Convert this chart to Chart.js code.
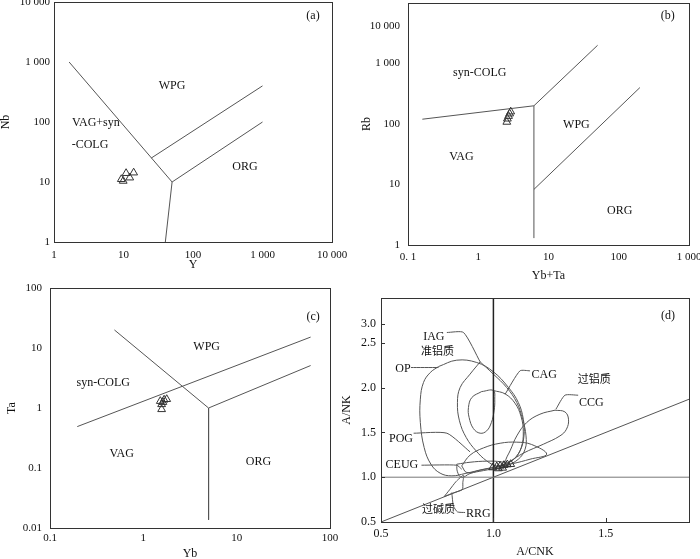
<!DOCTYPE html>
<html>
<head>
<meta charset="utf-8">
<script src="https://cdn.jsdelivr.net/npm/chart.js@4.4.1/dist/chart.umd.min.js"></script>
<style>
  html, body { margin: 0; padding: 0; background: #fff; }
  body { width: 700px; height: 559px; position: relative; overflow: hidden; }
  canvas { position: absolute; }
</style>
</head>
<body>
<canvas id="pa"></canvas>
<canvas id="pb"></canvas>
<canvas id="pc"></canvas>
<canvas id="pd"></canvas>
<script>
// ---- (a) Nb vs Y ----
const aPtX = [9.3, 10.9, 12.3, 14.0, 9.9];
const aPtY = [11.1, 14.0, 11.8, 14.3, 10.4];
const aBoundX = [[1.65, 50], [25, 1000], [50, 1000], [50, 40]];
const aBoundY = [[1000, 10], [25, 400], [10, 100], [10, 1]];
const aTickX = [1, 10, 100, 1000, 10000];
const aTickXLab = ['1', '10', '100', '1 000', '10 000'];
const aTickY = [1, 10, 100, 1000, 10000];
const aTickYLab = ['1', '10', '100', '1 000', '10 000'];
const aTags = ['(a)', 'WPG', 'VAG+syn', '-COLG', 'ORG'];
const aTagX = [5330, 50, 4.0, 3.3, 560];
const aTagY = [5870, 400, 96, 41.4, 17.8];

// ---- (b) Rb vs Yb+Ta ----
const bPtX = [2.55, 2.6, 2.7, 2.8, 2.9];
const bPtY = [108, 122, 135, 148, 160];
const bBoundX = [[0.16, 6.2], [6.2, 6.2], [6.2, 50], [6.2, 200]];
const bBoundY = [[120, 200], [1.3, 200], [200, 2000], [8.3, 400]];
const bTickX = [0.1, 1, 10, 100, 1000];
const bTickXLab = ['0. 1', '1', '10', '100', '1 000'];
const bTickY = [1, 10, 100, 1000, 4200];
const bTickYLab = ['1', '10', '100', '1 000', '10 000'];
const bTags = ['(b)', 'syn-COLG', 'VAG', 'WPG', 'ORG'];
const bTagX = [498, 1.05, 0.575, 25, 103];
const bTagY = [6100, 705, 28.5, 96, 3.65];

// ---- (c) Ta vs Yb ----
const cPtX = [1.52, 1.67, 1.78, 1.57, 1.57, 1.62];
const cPtY = [1.3, 1.37, 1.4, 1.15, 0.95, 1.25];
const cBoundX = [[0.49, 5], [5, 5], [5, 62], [0.196, 62]];
const cBoundY = [[20, 1], [1, 0.0137], [1, 5.1], [0.49, 15.2]];
const cTickX = [0.1, 1, 10, 100];
const cTickXLab = ['0.1', '1', '10', '100'];
const cTickY = [0.01, 0.1, 1, 10, 100];
const cTickYLab = ['0.01', '0.1', '1', '10', '100'];
const cTags = ['(c)', 'WPG', 'syn-COLG', 'VAG', 'ORG'];
const cTagX = [66, 4.77, 0.372, 0.586, 17.1];
const cTagY = [32.9, 10.6, 2.61, 0.173, 0.129];

// ---- (d) A/NK vs A/CNK ----
const dPtX = [0.997, 1.015, 1.030, 1.047, 1.062, 1.077, 1.022, 1.041];
const dPtY = [1.108, 1.119, 1.126, 1.134, 1.141, 1.145, 1.097, 1.104];
const opX = [0.756, 0.837, 0.926, 1.000, 1.067, 1.111, 1.133, 1.136, 1.118, 1.081, 1.030, 0.956, 0.874, 0.815, 0.763, 0.722, 0.692, 0.675, 0.675, 0.689, 0.719, 0.756];
const opY = [2.235, 2.306, 2.280, 2.176, 2.001, 1.833, 1.647, 1.461, 1.294, 1.182, 1.126, 1.089, 1.041, 1.015, 1.045, 1.145, 1.331, 1.610, 1.871, 2.057, 2.168, 2.235];
const iagX = [0.941, 1.000, 1.059, 1.104, 1.130, 1.145, 1.141, 1.111, 1.059, 1.015, 0.970, 0.923, 0.879, 0.849, 0.840, 0.852, 0.896, 0.941];
const iagY = [2.287, 2.150, 2.001, 1.833, 1.647, 1.461, 1.313, 1.201, 1.134, 1.126, 1.182, 1.294, 1.443, 1.629, 1.833, 2.001, 2.150, 2.287];
const cagX = [0.948, 1.000, 1.006, 1.003, 0.991, 0.970, 0.941, 0.911, 0.892, 0.889, 0.904, 0.948];
const cagY = [1.956, 1.967, 1.871, 1.740, 1.610, 1.517, 1.491, 1.543, 1.666, 1.778, 1.889, 1.956];
const cagArcX = [1.000, 1.052, 1.096, 1.123, 1.133, 1.124, 1.098, 1.059, 1.030];
const cagArcY = [1.967, 1.930, 1.826, 1.677, 1.506, 1.331, 1.219, 1.156, 1.134];
const ccgX = [1.274, 1.318, 1.334, 1.325, 1.296, 1.222, 1.133, 1.074, 1.047, 1.056, 1.074, 1.104, 1.148, 1.207, 1.274];
const ccgY = [1.748, 1.729, 1.647, 1.536, 1.461, 1.368, 1.268, 1.171, 1.108, 1.201, 1.294, 1.461, 1.610, 1.703, 1.748];
const pogX = [0.859, 0.896, 0.956, 1.030, 1.104, 1.170, 1.237, 1.163, 1.089, 1.015, 0.941, 0.882, 0.859];
const pogY = [1.126, 1.246, 1.327, 1.379, 1.391, 1.365, 1.257, 1.201, 1.153, 1.115, 1.078, 1.052, 1.126];
const ceugX = [0.837, 0.896, 0.970, 1.037, 1.074, 1.022, 0.956, 0.896, 0.859, 0.840, 0.837];
const ceugY = [1.145, 1.167, 1.179, 1.171, 1.141, 1.104, 1.074, 1.041, 0.996, 1.060, 1.145];
const rrgX = [0.781, 0.805, 0.834, 0.867, 0.864, 0.862, 0.822, 0.781];
const rrgY = [0.784, 0.859, 0.952, 1.022, 0.940, 0.862, 0.825, 0.784];
const leadX = [[0.793, 0.867, 0.941], [0.633, 0.756], [1.163, 1.118, 1.052], [1.377, 1.318, 1.278], [0.645, 0.793, 0.896], [0.68, 0.837, 0.859], [0.874, 0.840, 0.822, 0.815]];
const leadY = [[2.615, 2.615, 2.287], [2.224, 2.224], [2.187, 2.187, 1.926], [1.915, 1.915, 1.759], [1.491, 1.491, 1.283], [1.134, 1.134, 1.089], [0.606, 0.613, 0.680, 0.829]];
const dRefX = [[0.5, 1.87], [1.0, 1.0], [0.5, 1.87]];
const dRefY = [[1.0, 1.0], [0.5, 3.0], [0.5, 1.87]];
const dTickX = [0.5, 1.0, 1.5];
const dTickXLab = ['0.5', '1.0', '1.5'];
const dTickY = [0.5, 1.0, 1.5, 2.0, 2.5, 2.708];
const dTickYLab = ['0.5', '1.0', '1.5', '2.0', '2.5', '3.0'];
const dTags = ['(d)', 'IAG', '准铝质', 'OP', 'CAG', '过铝质', 'CCG', 'POG', 'CEUG', '过碱质', 'RRG'];
const dTagX = [1.777, 0.735, 0.751, 0.598, 1.226, 1.448, 1.436, 0.589, 0.593, 0.756, 0.933];
const dTagY = [2.80, 2.57, 2.41, 2.213, 2.142, 2.094, 1.826, 1.424, 1.134, 0.643, 0.594];

const SERIF = "'Liberation Serif', 'DejaVu Serif', serif";
const CJK = "'Noto Sans CJK SC', 'Noto Sans CJK JP', sans-serif";
const INK = '#555';

const pts = (xs, ys) => xs.map((x, i) => ({ x: x, y: ys[i] }));
function seg(xs, ys, color, width, tension) {
  return { data: pts(xs, ys), showLine: true, borderColor: color || INK, borderWidth: width || 1, pointRadius: 0, tension: tension || 0, fill: false };
}
function tri(xs, ys) {
  return { data: pts(xs, ys), showLine: false, pointStyle: 'triangle', pointRadius: 4.5, borderColor: '#333', borderWidth: 1, backgroundColor: 'rgba(255,255,255,0)' };
}

// box around the plot area + inward tick marks where asked
const frame = {
  id: 'frame',
  afterDatasetsDraw(c, args, o) {
    const a = c.chartArea, ctx = c.ctx;
    ctx.save();
    ctx.strokeStyle = '#333'; ctx.lineWidth = 1;
    ctx.strokeRect(Math.round(a.left) + 0.5, Math.round(a.top) + 0.5, Math.round(a.right - a.left), Math.round(a.bottom - a.top));
    if (o.inTicks) {
      ctx.beginPath();
      c.scales.x.ticks.forEach(t => { const px = Math.round(c.scales.x.getPixelForValue(t.value)) + 0.5; ctx.moveTo(px, a.bottom); ctx.lineTo(px, a.bottom - 4); });
      c.scales.y.ticks.forEach(t => { const py = Math.round(c.scales.y.getPixelForValue(t.value)) + 0.5; ctx.moveTo(a.left, py); ctx.lineTo(a.left + 4, py); });
      ctx.stroke();
    }
    ctx.restore();
  }
};

// field names placed at data coordinates
const tags = {
  id: 'tags',
  afterDatasetsDraw(c, args, o) {
    const ctx = c.ctx;
    ctx.save();
    ctx.fillStyle = '#111';
    ctx.textAlign = 'center'; ctx.textBaseline = 'middle';
    o.text.forEach((t, i) => {
      const cjk = /[\u4e00-\u9fff]/.test(t);
      ctx.font = cjk ? '11px ' + CJK : o.size + 'px ' + SERIF;
      ctx.fillText(t, c.scales.x.getPixelForValue(o.x[i]), c.scales.y.getPixelForValue(o.y[i]));
    });
    ctx.restore();
  }
};

function axis(type, min, max, vals, labs, title, pad, size, fit) {
  return {
    type: type, min: min, max: max,
    grid: { display: false, drawTicks: false },
    border: { display: true, color: '#333' },
    afterBuildTicks: s => { s.ticks = vals.map(v => ({ value: v })); },
    afterFit: fit,
    ticks: { autoSkip: false, maxRotation: 0, padding: pad, color: '#111', font: { family: SERIF, size: size }, callback: (v, i) => labs[i] },
    title: { display: true, text: title, padding: 0, color: '#111', font: { family: SERIF, size: 12, lineHeight: 1 } }
  };
}

// box = canvas [left, top, w, h] on the page; area = plot [left, top, right, bottom] on the page
function panel(id, box, area, yTitleX, xTitleY, s) {
  const cv = document.getElementById(id);
  cv.width = box[2]; cv.height = box[3];
  cv.style.left = box[0] + 'px'; cv.style.top = box[1] + 'px';
  const half = 6;
  const pad = {
    left: yTitleX - half - box[0],
    top: area[1] - box[1],
    right: box[0] + box[2] - area[2],
    bottom: box[1] + box[3] - (xTitleY + half)
  };
  const yW = area[0] - (yTitleX - half);
  const xH = xTitleY + half - area[3];
  return new Chart(cv, {
    type: 'scatter',
    data: { datasets: s.datasets },
    options: {
      responsive: false, animation: false, events: [],
      layout: { padding: pad },
      plugins: { legend: { display: false }, tooltip: { enabled: false }, tags: s.tags, frame: { inTicks: !!s.inTicks } },
      scales: {
        x: axis(s.xType, s.x[0], s.x[1], s.xt, s.xl, s.xTitle, s.xPad, s.tickSize, sc => { sc.height = xH; sc.paddingLeft = 0; sc.paddingRight = 0; }),
        y: axis(s.yType, s.y[0], s.y[1], s.yt, s.yl, s.yTitle, s.yPad, s.tickSize, sc => { sc.width = yW; sc.paddingTop = 0; sc.paddingBottom = 0; })
      }
    },
    plugins: [frame, tags]
  });
}

panel('pa', [-5, -10, 360, 300], [54, 2, 332, 242], 6, 265, {
  xType: 'logarithmic', yType: 'logarithmic', x: [1, 10000], y: [1, 10000],
  xt: aTickX, xl: aTickXLab, yt: aTickY, yl: aTickYLab, xTitle: 'Y', yTitle: 'Nb',
  xPad: 7, yPad: 4, tickSize: 11,
  datasets: [tri(aPtX, aPtY)].concat(aBoundX.map((xs, i) => seg(xs, aBoundY[i]))),
  tags: { text: aTags, x: aTagX, y: aTagY, size: 12 }
});

panel('pb', [345, -10, 360, 300], [408, 3, 689, 245], 367, 276, {
  xType: 'logarithmic', yType: 'logarithmic', x: [0.1, 1000], y: [1, 10000],
  xt: bTickX, xl: bTickXLab, yt: bTickY, yl: bTickYLab, xTitle: 'Yb+Ta', yTitle: 'Rb',
  xPad: 6, yPad: 8, tickSize: 11,
  datasets: [tri(bPtX, bPtY)].concat(bBoundX.map((xs, i) => seg(xs, bBoundY[i]))),
  tags: { text: bTags, x: bTagX, y: bTagY, size: 12 }
});

panel('pc', [-5, 275, 360, 300], [50, 288, 330, 528], 12, 554, {
  xType: 'logarithmic', yType: 'logarithmic', x: [0.1, 100], y: [0.01, 100],
  xt: cTickX, xl: cTickXLab, yt: cTickY, yl: cTickYLab, xTitle: 'Yb', yTitle: 'Ta',
  xPad: 4, yPad: 8, tickSize: 11,
  datasets: [tri(cPtX, cPtY)].concat(cBoundX.map((xs, i) => seg(xs, cBoundY[i]))),
  tags: { text: cTags, x: cTagX, y: cTagY, size: 12 }
});

const dSets = [tri(dPtX, dPtY),
  seg(dRefX[0], dRefY[0], '#777', 1), seg(dRefX[1], dRefY[1], '#222', 1.5), seg(dRefX[2], dRefY[2], INK, 1),
  seg(opX, opY, INK, 1, 0.4), seg(iagX, iagY, INK, 1, 0.4), seg(cagX, cagY, INK, 1, 0.4), seg(cagArcX, cagArcY, INK, 1, 0.4),
  seg(ccgX, ccgY, INK, 1, 0.4), seg(pogX, pogY, INK, 1, 0.4), seg(ceugX, ceugY, INK, 1, 0.4), seg(rrgX, rrgY, INK, 1, 0.2)
].concat(leadX.map((xs, i) => seg(xs, leadY[i], INK, 1, 0.2)));

panel('pd', [335, 275, 370, 300], [381, 298, 689, 522], 347, 552, {
  xType: 'linear', yType: 'linear', x: [0.5, 1.87], y: [0.5, 3.0],
  xt: dTickX, xl: dTickXLab, yt: dTickY, yl: dTickYLab, xTitle: 'A/CNK', yTitle: 'A/NK',
  xPad: 5, yPad: 5, tickSize: 12, inTicks: true,
  datasets: dSets,
  tags: { text: dTags, x: dTagX, y: dTagY, size: 12 }
});
</script>
</body>
</html>
